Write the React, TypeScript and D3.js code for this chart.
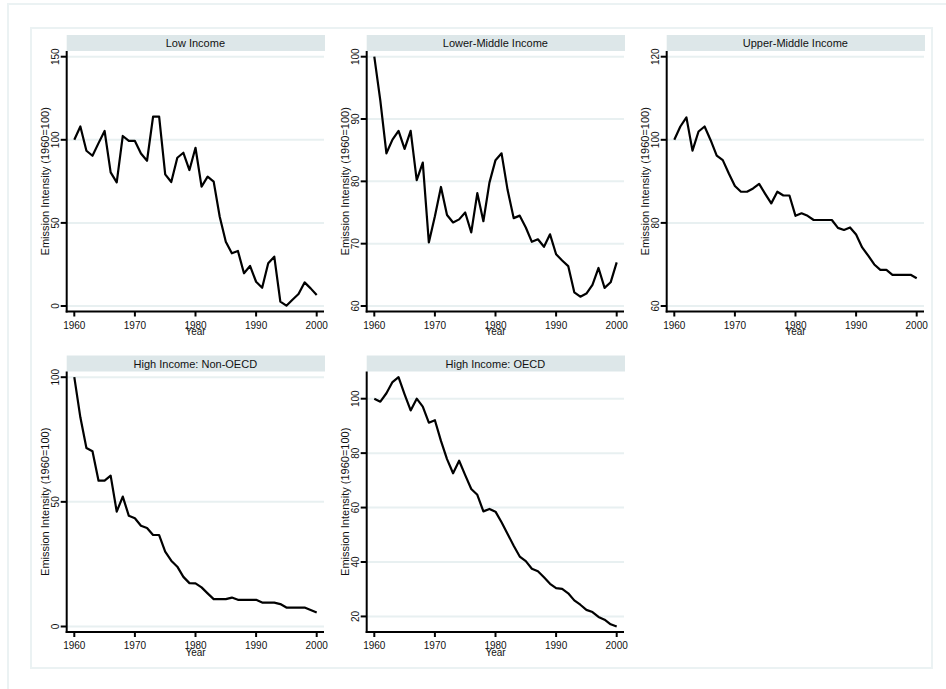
import React from "react";
import * as d3 from "d3";

const years: number[] = d3.range(1960, 2001);

const titles: string[] = [
  "Low Income",
  "Lower-Middle Income",
  "Upper-Middle Income",
  "High Income: Non-OECD",
  "High Income: OECD",
];

const lowIncome: number[] = [
  100, 108, 93.4, 90.4, 98, 105.3, 80.4, 74.4, 102.3, 99.3, 99.3, 91.8, 87.4, 113.9, 113.9,
  79.2, 74.6, 89.2, 92.2, 81.8, 95.2, 71.8, 77.8, 74.8, 53.7, 38.7, 31.7, 33.1, 19.7, 24.1,
  14.6, 11.0, 25.7, 29.7, 2.6, 0.2, 3.8, 7.2, 14.2, 10.6, 6.6,
];
const lowerMiddle: number[] = [
  100, 92.9, 84.5, 86.7, 88.1, 85.2, 88.1, 80.2, 83.0, 70.2, 74.4, 79.1, 74.6, 73.4, 73.9,
  75.0, 71.8, 78.1, 73.6, 79.8, 83.4, 84.5, 78.6, 74.1, 74.5, 72.6, 70.3, 70.7, 69.5, 71.5,
  68.3, 67.3, 66.4, 62.2, 61.5, 62.0, 63.4, 66.1, 62.9, 63.8, 67.0,
];
const upperMiddle: number[] = [
  100, 103.2, 105.4, 97.4, 102.0, 103.2, 99.9, 96.2, 95.1, 91.9, 88.9, 87.5, 87.5, 88.3, 89.4,
  87.0, 84.7, 87.5, 86.6, 86.6, 81.7, 82.3, 81.7, 80.7, 80.7, 80.7, 80.7, 78.8, 78.3, 78.9,
  77.2, 74.1, 72.1, 70.0, 68.7, 68.7, 67.5, 67.5, 67.5, 67.5, 66.7,
];
const highNonOECD: number[] = [
  100, 83.9, 71.6, 70.3, 58.5, 58.5, 60.5, 46.1, 52.1, 44.4, 43.4, 40.4, 39.5, 36.7, 36.7,
  30.0, 26.4, 24.0, 19.9, 17.4, 17.3, 15.7, 13.3, 11.0, 11.0, 11.0, 11.6, 10.7, 10.7, 10.7,
  10.7, 9.6, 9.6, 9.6, 9.0, 7.6, 7.6, 7.6, 7.6, 6.6, 5.6,
];
const highOECD: number[] = [
  100, 98.9, 102.0, 106.1, 107.9, 101.6, 95.7, 100.0, 97.1, 91.2, 92.1, 84.5, 77.8, 72.6, 77.2,
  71.9, 66.8, 64.7, 58.6, 59.5, 58.5, 54.6, 50.3, 46.0, 42.0, 40.3, 37.5, 36.6, 34.4, 32.0,
  30.4, 30.1, 28.5, 25.9, 24.3, 22.4, 21.6, 19.8, 18.8, 17.1, 16.3,
];

const seriesList: number[][] = [lowIncome, lowerMiddle, upperMiddle, highNonOECD, highOECD];

const yTicksLow: number[] = [0, 50, 100, 150];
const yTicksLowerMiddle: number[] = [60, 70, 80, 90, 100];
const yTicksUpperMiddle: number[] = [60, 80, 100, 120];
const yTicksNonOECD: number[] = [0, 50, 100];
const yTicksOECD: number[] = [20, 40, 60, 80, 100];
const yTicksList: number[][] = [yTicksLow, yTicksLowerMiddle, yTicksUpperMiddle, yTicksNonOECD, yTicksOECD];

const xTicks: number[] = [1960, 1970, 1980, 1990, 2000];

const yTitle = "Emission Intensity (1960=100)";
const xTitle = "Year";

const FONT = "'Liberation Sans', Arial, Helvetica, sans-serif";
const GRID = "#e8f0f1";
const HEADER = "#dde7e9";
const FRAME = "#ebf2f3";

function Panel({ idx }: { idx: number }) {
  const col = idx % 3;
  const row = Math.floor(idx / 3);
  const dx = col * 300;
  const dy = row * 320.5;
  const plotLeft = 66.7 + dx;
  const plotRight = 324 + dx;
  const plotTop = 51 + dy;
  const plotBottom = 311.5 + dy;
  const headerTop = 35 + dy;

  const data = seriesList[idx];
  const ticks = yTicksList[idx];
  const ext = d3.extent([...ticks, ...data]) as [number, number];

  const x = d3.scaleLinear().domain([1960, 2000]).range([74.3 + dx, 316.7 + dx]);
  const y = d3.scaleLinear().domain(ext).range([plotBottom - 5.5, plotTop + 5.7]);

  const line = d3
    .line<number>()
    .x((_, i) => x(years[i]))
    .y((d) => y(d));

  return (
    <g>
      <rect x={plotLeft} y={headerTop} width={plotRight - plotLeft + 1} height={plotTop - headerTop} fill={HEADER} />
      <text
        x={(plotLeft + plotRight) / 2}
        y={headerTop + 12.3}
        textAnchor="middle"
        fontFamily={FONT}
        fontSize={11}
        fill="#111"
      >
        {titles[idx]}
      </text>
      {ticks.map((t) => (
        <line key={"g" + t} x1={plotLeft} x2={plotRight} y1={y(t)} y2={y(t)} stroke={GRID} strokeWidth={2} />
      ))}
      <path d={line(data) || ""} fill="none" stroke="#000" strokeWidth={2.2} strokeLinejoin="round" />
      <line x1={plotLeft} x2={plotLeft} y1={plotTop} y2={plotBottom + 1} stroke="#000" strokeWidth={2} />
      <line x1={plotLeft - 1} x2={plotRight} y1={plotBottom} y2={plotBottom} stroke="#000" strokeWidth={2} />
      {ticks.map((t) => (
        <g key={"yt" + t}>
          <line x1={plotLeft - 6} x2={plotLeft} y1={y(t)} y2={y(t)} stroke="#000" strokeWidth={2} />
          <text
            transform={`translate(${plotLeft - 7.5},${y(t)}) rotate(-90)`}
            textAnchor="middle"
            fontFamily={FONT}
            fontSize={10}
            fill="#111"
          >
            {t}
          </text>
        </g>
      ))}
      {xTicks.map((t) => (
        <g key={"xt" + t}>
          <line x1={x(t)} x2={x(t)} y1={plotBottom} y2={plotBottom + 5} stroke="#000" strokeWidth={2} />
          <text x={x(t)} y={plotBottom + 17} textAnchor="middle" fontFamily={FONT} fontSize={10} fill="#111">
            {t}
          </text>
        </g>
      ))}
      <text x={x(1980)} y={plotBottom + 23.5} textAnchor="middle" fontFamily={FONT} fontSize={10} fill="#111">
        {xTitle}
      </text>
      <text
        transform={`translate(${48.5 + dx},${(plotTop + plotBottom) / 2}) rotate(-90)`}
        textAnchor="middle"
        fontFamily={FONT}
        fontSize={11}
        fill="#111"
      >
        {yTitle}
      </text>
    </g>
  );
}

export default function App() {
  return (
    <svg
      width={946}
      height={689}
      style={{ position: "absolute", left: 0, top: 0, background: "#fff" }}
    >
      <rect x={0} y={0} width={946} height={689} fill="#fff" />
      <rect x={8} y={4} width={960} height={720} fill="none" stroke={FRAME} strokeWidth={2} />
      <rect x={31} y={28} width={901} height={640} fill="none" stroke={FRAME} strokeWidth={2} />
      {titles.map((_, i) => (
        <Panel key={i} idx={i} />
      ))}
    </svg>
  );
}
